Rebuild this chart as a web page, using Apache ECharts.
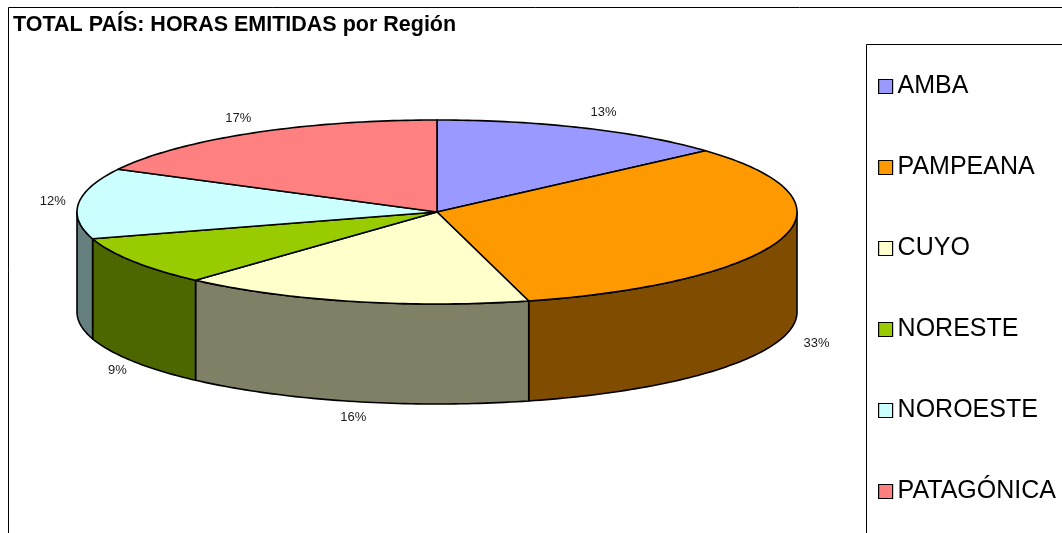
<!DOCTYPE html>
<html>
<head>
<meta charset="utf-8">
<script src="https://cdn.jsdelivr.net/npm/echarts@6/dist/echarts.min.js"></script>
<style>
  html, body { margin: 0; padding: 0; background: #fff; }
  #chart { width: 1062px; height: 533px; }
</style>
</head>
<body>
<div id="chart"></div>
<script>
// data (share of broadcast hours per region, %)
const regions = ['AMBA', 'PAMPEANA', 'CUYO', 'NORESTE', 'NOROESTE', 'PATAGÓNICA'];
const shares = [13.4, 32.5, 15.8, 8.6, 12.4, 17.3];
const topColors = ['#9999FF', '#FF9900', '#FFFFCC', '#99CC00', '#CCFFFF', '#FF8080'];
const sideColors = ['#4C4C80', '#7F4C00', '#808066', '#4C6600', '#668080', '#804040'];

// 3D pie geometry (pixels)
const CX = 437, CY = 212, RX = 360, RY = 92, DEPTH = 100;
const total = shares.reduce((a, b) => a + b, 0);

function pt(a, dy) {
    return [CX + RX * Math.sin(a), CY - RY * Math.cos(a) + (dy || 0)];
}

function arc(a0, a1, dy) {
    const pts = [];
    const n = Math.max(2, Math.ceil((a1 - a0) / (Math.PI / 180)));
    for (let k = 0; k <= n; k++) {
        pts.push(pt(a0 + (a1 - a0) * k / n, dy));
    }
    return pts;
}

function renderSlice(params, api) {
    const i = params.seriesIndex;
    const before = shares.slice(0, i).reduce((a, b) => a + b, 0);
    const a0 = before / total * 2 * Math.PI;
    const a1 = (before + api.value(0)) / total * 2 * Math.PI;
    const children = [];

    // outer wall, only the front half is visible
    const w0 = Math.max(a0, Math.PI / 2);
    const w1 = Math.min(a1, 3 * Math.PI / 2);
    if (w1 > w0) {
        const wall = arc(w0, w1, 0).concat(arc(w0, w1, DEPTH).reverse());
        children.push({
            type: 'polygon',
            shape: { points: wall },
            style: { fill: sideColors[i], stroke: '#000', lineWidth: 1.6, lineJoin: 'round' }
        });
    }

    // top face
    const top = [[CX, CY]].concat(arc(a0, a1, 0));
    children.push({
        type: 'polygon',
        shape: { points: top },
        style: { fill: topColors[i], stroke: '#000', lineWidth: 1.6, lineJoin: 'round' }
    });

    // percent label outside the slice
    const am = (a0 + a1) / 2;
    const front = Math.cos(am) < 0;
    const edge = pt(am, front ? DEPTH : 0);
    const shift = (front || Math.sin(am) > 0) ? 8 : 2;
    children.push({
        type: 'text',
        x: edge[0] + 28 * Math.sin(am) + shift,
        y: edge[1] - 17 * Math.cos(am),
        style: {
            text: Math.round(api.value(0) / total * 100) + '%',
            fill: '#1a1a1a',
            font: '13px "Liberation Sans", Arial, sans-serif',
            align: 'center',
            verticalAlign: 'middle'
        }
    });

    return { type: 'group', children: children };
}

const chart = echarts.init(document.getElementById('chart'));

const series = regions.map((name, i) => ({
    type: 'custom',
    name: name,
    coordinateSystem: 'none',
    renderItem: renderSlice,
    itemStyle: { color: topColors[i] },
    data: [[shares[i]]],
    animation: false
}));

chart.setOption({
    backgroundColor: '#fff',
    animation: false,
    title: {
        text: 'TOTAL PAÍS: HORAS EMITIDAS por Región',
        left: 8,
        top: 9,
        textStyle: {
            fontFamily: '"Liberation Sans", Arial, sans-serif',
            fontSize: 21.5,
            fontWeight: 'bold',
            color: '#000'
        }
    },
    legend: {
        data: regions,
        orient: 'vertical',
        left: 873,
        top: 69,
        icon: 'rect',
        itemWidth: 14,
        itemHeight: 14,
        itemGap: 56,
        selectedMode: false,
        itemStyle: { borderColor: '#000', borderWidth: 1.2 },
        textStyle: {
            fontFamily: '"Liberation Sans", Arial, sans-serif',
            fontSize: 25,
            lineHeight: 25,
            color: '#000',
            padding: [0, 0, 0, 0]
        }
    },
    graphic: [
        {
            type: 'rect',
            shape: { x: 8.5, y: 7.5, width: 1100, height: 600 },
            style: { fill: 'none', stroke: '#000', lineWidth: 1 },
            silent: true
        },
        {
            type: 'rect',
            shape: { x: 866.5, y: 44.5, width: 300, height: 600 },
            style: { fill: 'none', stroke: '#000', lineWidth: 1 },
            silent: true
        }
    ],
    series: series
});
</script>
</body>
</html>
